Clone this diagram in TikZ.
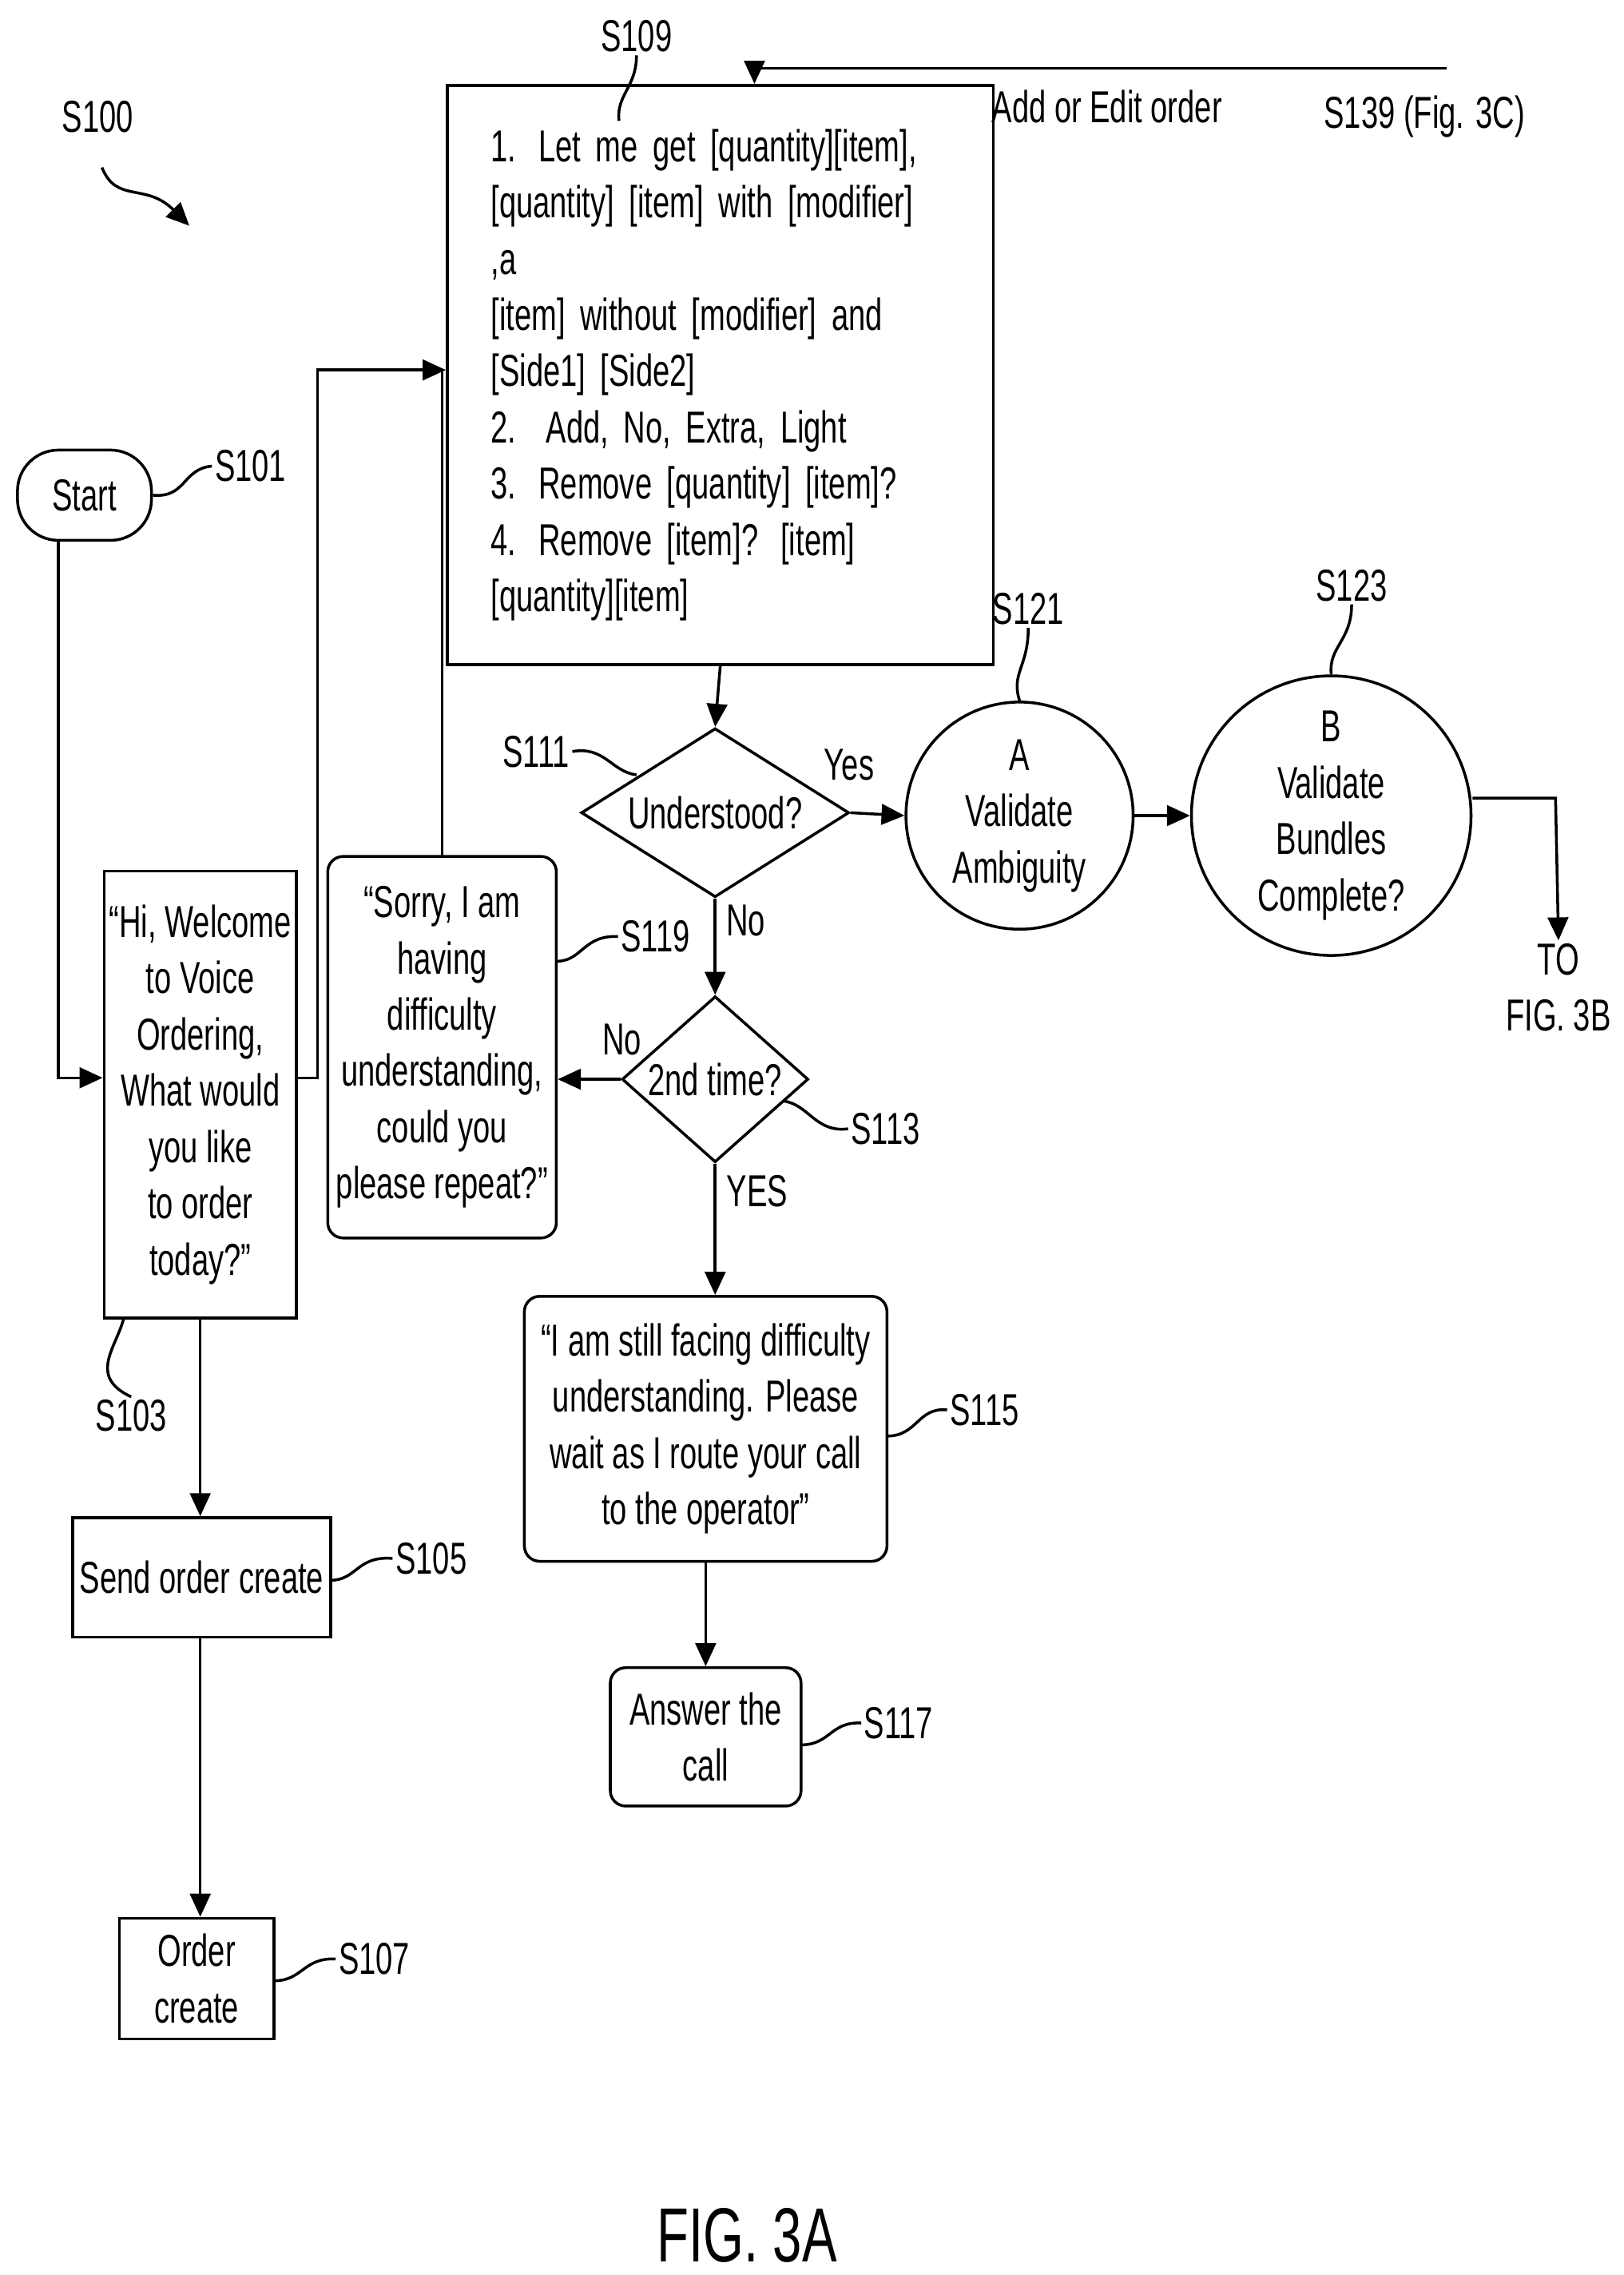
\documentclass[tikz,border=0pt]{standalone}
\usepackage{fontspec}
\setmainfont{Liberation Sans}[FakeStretch=0.68]
\usetikzlibrary{shapes.geometric,arrows.meta,positioning}
\tikzset{
  line/.style={line width=1.1pt},
  arr/.style={line, -{Triangle[length=9pt,width=8pt]}},
  box/.style={draw, line width=1.1pt, align=center, inner sep=2pt},
  rbox/.style={box, rounded corners=6pt},
  dia/.style={draw, line width=1.1pt, diamond, aspect=1.6, inner sep=0pt},
  circ/.style={draw, line width=1.1pt, circle, align=center, inner sep=0pt},
  lab/.style={inner sep=1pt},
}
\begin{document}
\begin{tikzpicture}[x=0.02cm, y=-0.02cm, font=\fontsize{17.5}{22}\selectfont]
  \useasboundingbox (0,0) rectangle (1115,1562);

  %% nodes
  \node[box, rounded corners=16pt, minimum width=1.84cm, minimum height=1.24cm] (start) at (58,340) {Start};
  \node[box, minimum width=2.58cm, minimum height=6.14cm] (s103) at (137.5,751.5)
    {``Hi, Welcome\\to Voice\\Ordering,\\What would\\you like\\to order\\today?''};
  \node[rbox, minimum width=3.14cm, minimum height=5.24cm] (s119) at (303.5,719)
    {``Sorry, I am\\having\\difficulty\\understanding,\\could you\\please repeat?''};
  \node[box, align=left, text width=6.3cm, minimum height=6.98cm, inner sep=0.6cm] (s109) at (494.5,257.5)
    {1. Let me get [quantity][item],\\{}[quantity] [item] with [modifier] ,a\\{}[item] without [modifier] and\\{}[Side1] [Side2]\\2.\ \ Add, No, Extra, Light\\3. Remove [quantity] [item]?\\4. Remove [item]? [item]\\{}[quantity][item]};
  \node[dia, minimum width=3.68cm, minimum height=2.32cm] (s111) at (491,558) {Understood?};
  \node[circ, minimum size=3.12cm] (a) at (700,560) {A\\Validate\\Ambiguity};
  \node[circ, minimum size=3.84cm] (b) at (914,560) {B\\Validate\\Bundles\\Complete?};
  \node[dia, minimum width=2.56cm, minimum height=2.28cm] (s113) at (491,741) {2nd time?};
  \node[rbox, minimum width=4.98cm, minimum height=3.64cm] (s115) at (484.5,981)
    {``I am still facing difficulty\\understanding. Please\\wait as I route your call\\to the operator''};
  \node[rbox, minimum width=2.62cm, minimum height=1.9cm] (s117) at (484.5,1192.5) {Answer the\\call};
  \node[box, minimum width=3.54cm, minimum height=1.64cm] (s105) at (138.5,1083) {Send order create};
  \node[box, minimum width=2.12cm, minimum height=1.66cm] (s107) at (135,1358.5) {Order\\create};

  %% labels
  \node[lab] (l100) at (67,80) {S100};
  \node[lab] (l101) at (172,320) {S101};
  \node[lab] (l103) at (90,972) {S103};
  \node[lab] (l109) at (437,25) {S109};
  \node[lab] (l111) at (368,516) {S111};
  \node[lab] (l121) at (706,418) {S121};
  \node[lab] (l123) at (928,402) {S123};
  \node[lab] (l113) at (608,775) {S113};
  \node[lab] (l119) at (450,643) {S119};
  \node[lab] (l115) at (676,968) {S115};
  \node[lab] (l117) at (617,1183) {S117};
  \node[lab] (l105) at (296,1070) {S105};
  \node[lab] (l107) at (257,1345) {S107};
  \node[lab] (l139) at (978,80) {S139 (Fig. 3C)};
  \node[lab] (edit) at (760,73) {Add or Edit order};
  \node[lab] (yes1) at (583,525) {Yes};
  \node[lab] (no1) at (512,632) {No};
  \node[lab] (no2) at (427,714) {No};
  \node[lab] (yes2) at (520,818) {YES};
  \node[lab, align=center] (to) at (1070,678) {TO\\FIG. 3B};
  \node[lab, font=\fontsize{30}{32}\selectfont] (fig) at (513,1535) {FIG. 3A};

  %% leaders
  \draw[line] (l101.west) .. controls (125,322) and (128,342) .. (start.east);
  \draw[line] (l103.north) .. controls (60,945) and (80,925) .. (85,905);
  \draw[line] (l109.south) .. controls (437,60) and (423,65) .. (425,83);
  \draw[line] (l111.east) .. controls (415,512) and (420,530) .. (437,532);
  \draw[line] (l121.south) .. controls (706,458) and (694,462) .. (a.north);
  \draw[line] (l123.south) .. controls (928,440) and (912,444) .. (b.north);
  \draw[line] (l113.west) .. controls (560,778) and (555,758) .. (538,756);
  \draw[line] (l119.west) .. controls (400,642) and (400,660) .. (382,660);
  \draw[line] (l115.west) .. controls (630,966) and (630,986) .. (609,986);
  \draw[line] (l117.west) .. controls (570,1182) and (570,1198) .. (550,1198);
  \draw[line] (l105.west) .. controls (245,1068) and (245,1085) .. (227,1085);
  \draw[line] (l107.west) .. controls (208,1344) and (208,1360) .. (188,1360);
  \draw[arr] (70,115) .. controls (80,140) and (100,125) .. (130,155);

  %% connectors
  \coordinate (j) at (218,254);
  \coordinate (top) at (993,47);
  \coordinate (tob) at (1068,548);
  \draw[arr] (start.south -| 40,0) |- (s103.west |- 0,740);
  \draw[arr] (s103.east |- 0,740) -| (j) -- (s109.west |- j);
  \draw[line] (s119.north |- 0,588) -- (s119.north |- j);
  \draw[arr] (top) -| (s109.north -| 518,0);
  \draw[arr] (s109.south) -- (s111.north);
  \draw[arr] (s111.east) -- (a.west);
  \draw[arr] (a.east) -- (b.west);
  \draw[arr] (b.east |- tob) -- (tob) -- (to.north);
  \draw[arr] (s111.south) -- (s113.north);
  \draw[arr] (s113.west) -- (s119.east |- s113.west);
  \draw[arr] (s113.south) -- (s115.north -| s113.south);
  \draw[arr] (s115.south) -- (s117.north);
  \draw[arr] (s103.south) -- (s105.north -| s103.south);
  \draw[arr] (s105.south -| s103.south) -- (s107.north -| s103.south);
\end{tikzpicture}
\end{document}
